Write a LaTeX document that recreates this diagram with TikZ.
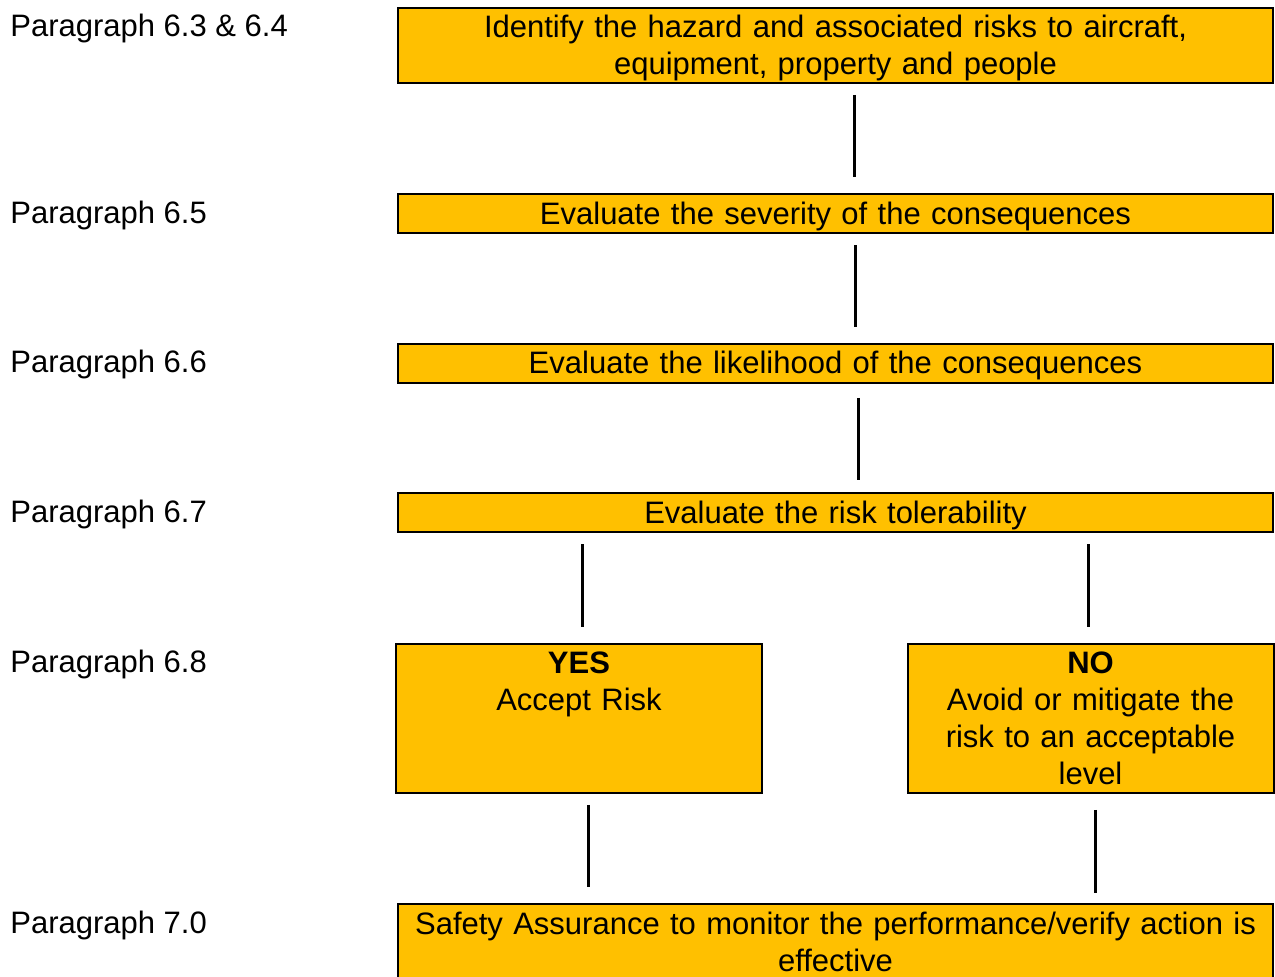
\documentclass[tikz,border=0pt]{standalone}
\usepackage{fontspec}
\setmainfont{Liberation Sans}
\usetikzlibrary{calc,positioning}
\definecolor{riskgold}{HTML}{FFC000}
\tikzset{
  stepbox/.style={
    rectangle,
    fill=riskgold,
    draw=black, line width=1pt,
    inner sep=0pt,
    text width=437.5pt,
    text height=15pt,
    text depth=4.5pt,
    text centered},
  halfbox/.style={stepbox, text width=183pt, text depth=59.5pt},
  parlabel/.style={anchor=base west, inner sep=0pt, yshift=-15pt},
  link/.style={draw, line width=1.5pt, shorten <=5.5pt, shorten >=8pt},
}
\begin{document}
\begin{tikzpicture}
[x=0.5pt, y=0.5pt,
  font=\fontsize{15.5pt}{18.5pt}\selectfont]

    \useasboundingbox (0,0) rectangle (1275,-977);

    \node [stepbox, text depth=22.5pt] (hazard) at (835.5,-45.5) {Identify the hazard and associated risks to aircraft,\\ equipment, property and people};
    \node [stepbox, below of=hazard, node distance=84.25pt] (severity) {Evaluate the severity of the consequences};
    \node [stepbox, below of=severity, node distance=74.75pt] (likely) {Evaluate the likelihood of the consequences};
    \node [stepbox, below of=likely, node distance=74.75pt] (tolerab) {Evaluate the risk tolerability};
    \node [halfbox, below of=tolerab, node distance=102.75pt, xshift=-128.25pt] (accept) {\textbf{YES}\\ Accept Risk};
    \node [halfbox, below of=tolerab, node distance=102.75pt, xshift=127.5pt] (mitigate) {\textbf{NO}\\ Avoid or mitigate the\\ risk to an acceptable\\ level};
    \node [stepbox, below of=tolerab, node distance=215.75pt, text depth=25pt] (assure) {Safety Assurance to monitor the performance/verify action is\\ effective};

    % paragraph references on the left
    \node [parlabel] (par634) at (10,0 |- hazard.north) {Paragraph 6.3 \& 6.4};
    \node [parlabel] (par65) at (10,0 |- severity.north) {Paragraph 6.5};
    \node [parlabel] (par66) at (10,0 |- likely.north) {Paragraph 6.6};
    \node [parlabel] (par67) at (10,0 |- tolerab.north) {Paragraph 6.7};
    \node [parlabel] (par68) at (10,0 |- accept.north) {Paragraph 6.8};
    \node [parlabel] (par70) at (10,0 |- assure.north) {Paragraph 7.0};

    \draw [link] ([xshift=9.25pt]hazard.south) -- ([xshift=9.25pt]hazard.south |- severity.north);
    \draw [link] ([xshift=9.75pt]severity.south) -- ([xshift=9.75pt]severity.south |- likely.north);
    \draw [link, shorten <=7pt, shorten >=6pt] ([xshift=11.25pt]likely.south) -- ([xshift=11.25pt]likely.south |- tolerab.north);
    \draw [link] ([xshift=1.5pt]accept.north |- tolerab.south) -- ([xshift=1.5pt]accept.north);
    \draw [link] ([xshift=-1.25pt]mitigate.north |- tolerab.south) -- ([xshift=-1.25pt]mitigate.north);
    \draw [link] ([xshift=4.5pt]accept.south) -- ([xshift=4.5pt]accept.south |- assure.north);
    \draw [link, shorten <=8pt, shorten >=5pt] ([xshift=2.25pt]mitigate.south) -- ([xshift=2.25pt]mitigate.south |- assure.north);

\end{tikzpicture}
\end{document}
